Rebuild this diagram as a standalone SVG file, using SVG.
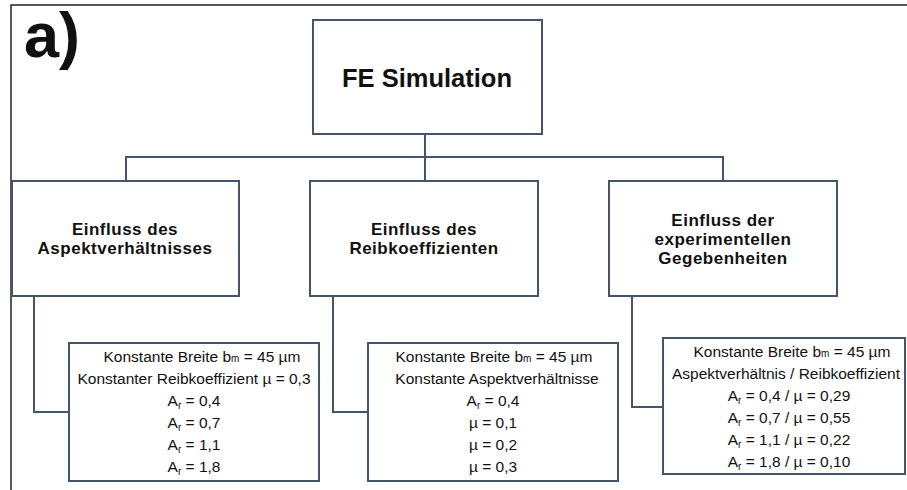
<svg xmlns="http://www.w3.org/2000/svg" width="907" height="490" viewBox="0 0 907 490">
<style>
.box{fill:#fff;stroke:#44546a;stroke-width:2}
.con{fill:none;stroke:#44546a;stroke-width:2}
.h{font-family:"Liberation Sans",Arial,sans-serif;font-weight:bold;font-size:17px;letter-spacing:0.5px;fill:#111;text-anchor:middle}
.t{font-family:"Liberation Sans",Arial,sans-serif;font-size:15.5px;fill:#111;text-anchor:middle}
.s{font-size:10px}
</style>
<rect x="0" y="0" width="907" height="490" fill="#fff"/>
<path d="M11,490 V5 H907" fill="none" stroke="#222" stroke-width="1.5"/>
<text x="24" y="57" font-family="Liberation Sans,Arial,sans-serif" font-weight="bold" font-size="63" fill="#111">a)</text>
<g id="connectors">
<path class="con" d="M425,134 V181"/>
<path class="con" d="M126,181 V157 H723 V181"/>
<path class="con" d="M34,296 V412 H69"/>
<path class="con" d="M333,296 V412 H368"/>
<path class="con" d="M632,296 V407 H663"/>
</g>
<g id="fe">
<rect class="box" x="313" y="20" width="229" height="114"/>
<text class="h" x="427" y="87" style="font-size:25.5px;letter-spacing:0">FE Simulation</text>
</g>
<g id="aspekt">
<rect class="box" x="12" y="181" width="227" height="115"/>
<text class="h" x="125" y="234.5">Einfluss des</text>
<text class="h" x="125" y="253.5">Aspektverhältnisses</text>
</g>
<g id="reib">
<rect class="box" x="310" y="181" width="228" height="115"/>
<text class="h" x="424" y="234.5">Einfluss des</text>
<text class="h" x="424" y="253.5">Reibkoeffizienten</text>
</g>
<g id="exp">
<rect class="box" x="609" y="181" width="228" height="115"/>
<text class="h" x="723" y="226">Einfluss der</text>
<text class="h" x="723" y="245">experimentellen</text>
<text class="h" x="723" y="264">Gegebenheiten</text>
</g>
<g id="aspekt-details">
<rect class="box" x="69" y="343" width="250" height="138"/>
<text class="t" x="202" y="362">Konstante Breite b<tspan class="s">m</tspan> = 45 µm</text>
<text class="t" x="194" y="384">Konstanter Reibkoeffizient µ = 0,3</text>
<text class="t" x="194" y="406">A<tspan class="s" dy="3">r</tspan><tspan dy="-3"> = 0,4</tspan></text>
<text class="t" x="194" y="428">A<tspan class="s" dy="3">r</tspan><tspan dy="-3"> = 0,7</tspan></text>
<text class="t" x="194" y="450">A<tspan class="s" dy="3">r</tspan><tspan dy="-3"> = 1,1</tspan></text>
<text class="t" x="194" y="472">A<tspan class="s" dy="3">r</tspan><tspan dy="-3"> = 1,8</tspan></text>
</g>
<g id="reib-details">
<rect class="box" x="368" y="343" width="250" height="138"/>
<text class="t" x="494" y="362">Konstante Breite b<tspan class="s">m</tspan> = 45 µm</text>
<text class="t" x="497" y="384">Konstante Aspektverhältnisse</text>
<text class="t" x="493" y="406">A<tspan class="s" dy="3">r</tspan><tspan dy="-3"> = 0,4</tspan></text>
<text class="t" x="493" y="428">µ = 0,1</text>
<text class="t" x="493" y="450">µ = 0,2</text>
<text class="t" x="493" y="472">µ = 0,3</text>
</g>
<g id="exp-details">
<rect class="box" x="663" y="338" width="242" height="136"/>
<text class="t" x="792" y="357">Konstante Breite b<tspan class="s">m</tspan> = 45 µm</text>
<text class="t" x="786" y="379">Aspektverhältnis / Reibkoeffizient</text>
<text class="t" x="789" y="401">A<tspan class="s" dy="3">r</tspan><tspan dy="-3"> = 0,4 / µ = 0,29</tspan></text>
<text class="t" x="789" y="423">A<tspan class="s" dy="3">r</tspan><tspan dy="-3"> = 0,7 / µ = 0,55</tspan></text>
<text class="t" x="789" y="445">A<tspan class="s" dy="3">r</tspan><tspan dy="-3"> = 1,1 / µ = 0,22</tspan></text>
<text class="t" x="789" y="467">A<tspan class="s" dy="3">r</tspan><tspan dy="-3"> = 1,8 / µ = 0,10</tspan></text>
</g>
</svg>
